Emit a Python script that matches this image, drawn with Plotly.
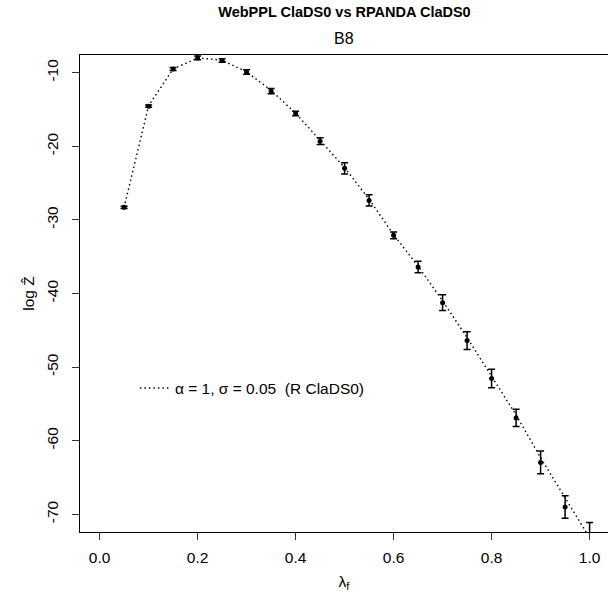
import plotly.graph_objects as go

# lambda_f grid
lam = [0.05, 0.10, 0.15, 0.20, 0.25, 0.30, 0.35, 0.40, 0.45, 0.50,
       0.55, 0.60, 0.65, 0.70, 0.75, 0.80, 0.85, 0.90, 0.95, 1.00]
# WebPPL ClaDS0 estimates (log Z hat) and error half-widths
webppl_mean = [-28.3, -14.55, -9.5, -8.0, -8.35, -9.9, -12.5, -15.55, -19.3, -23.0,
               -27.35, -32.1, -36.4, -41.25, -46.4, -51.55, -56.9, -62.95, -69.0, -73.0]
webppl_err = [0.15, 0.15, 0.2, 0.25, 0.25, 0.3, 0.35, 0.3, 0.45, 0.77,
              0.75, 0.45, 0.78, 1.07, 1.22, 1.27, 1.16, 1.54, 1.52, 1.9]
# RPANDA ClaDS0 reference curve (alpha = 1, sigma = 0.05)
rpanda = [-28.3, -14.5, -9.5, -8.0, -8.3, -9.9, -12.4, -15.5, -19.2, -22.9,
          -27.2, -32.0, -36.3, -41.0, -46.0, -51.2, -56.5, -62.3, -67.8, -73.2]

x_ticks = [0.0, 0.2, 0.4, 0.6, 0.8, 1.0]
y_ticks = [-70, -60, -50, -40, -30, -20, -10]

FONT = "Liberation Sans, Arial, Helvetica, sans-serif"

fig = go.Figure()
fig.add_trace(go.Scatter(
    x=lam, y=rpanda, mode="lines",
    line=dict(color="black", width=1.4, dash="1.5px,3px"),
    name="\u03b1 = 1, \u03c3 = 0.05  (R ClaDS0)",
    showlegend=True,
))
fig.add_trace(go.Scatter(
    x=lam, y=webppl_mean, mode="markers",
    marker=dict(color="black", size=5, symbol="circle"),
    error_y=dict(type="data", array=webppl_err, visible=True,
                 color="black", thickness=1.5, width=3.5),
    showlegend=False,
))

fig.update_layout(
    width=608, height=596,
    margin=dict(l=80, r=0, t=54.5, b=64.3),
    paper_bgcolor="white", plot_bgcolor="white",
    font=dict(family=FONT, size=16, color="black"),
    title=dict(text="<b>WebPPL ClaDS0 vs RPANDA ClaDS0</b>",
               x=(80 + 608.9) / 2 / 608, xanchor="center",
               y=1 - 12 / 596, yanchor="middle",
               font=dict(size=14.5, family=FONT, color="black")),
    legend=dict(x=0.104, y=0.301, xanchor="left", yanchor="middle",
                bgcolor="rgba(0,0,0,0)", borderwidth=0,
                font=dict(size=15.5, family=FONT), itemwidth=30),
    annotations=[dict(text="B8", xref="paper", yref="paper",
                      x=(608.9 - 80) / 2 / 528, y=1, xanchor="center",
                      yanchor="bottom", yshift=6, showarrow=False,
                      font=dict(size=16, family=FONT, color="black"))],
)

fig.update_xaxes(
    range=[-0.04, -0.04 + 528 / 490],
    tickvals=x_ticks, ticktext=[f"{v:.1f}" for v in x_ticks],
    ticks="outside", ticklen=7, tickwidth=1, tickcolor="#333",
    ticklabelstandoff=4,
    showline=True, linecolor="black", linewidth=1.3, mirror=True,
    showgrid=False, zeroline=False,
    tickfont=dict(size=15.5, family=FONT),
    title=dict(text="\u03bb<sub>f</sub>", standoff=11, font=dict(size=15.5, family=FONT)),
)
fig.update_yaxes(
    range=[-72.4, -7.6],
    tickvals=y_ticks, ticktext=[str(v) for v in y_ticks],
    tickangle=-90, ticklabelstandoff=8,
    ticks="outside", ticklen=7, tickwidth=1, tickcolor="#333",
    showline=True, linecolor="black", linewidth=1.3, mirror=False,
    showgrid=False, zeroline=False,
    tickfont=dict(size=15.5, family=FONT),
    title=dict(text="log Z\u0302", standoff=5, font=dict(size=15.5, family=FONT)),
)

fig.write_html("out.html")
